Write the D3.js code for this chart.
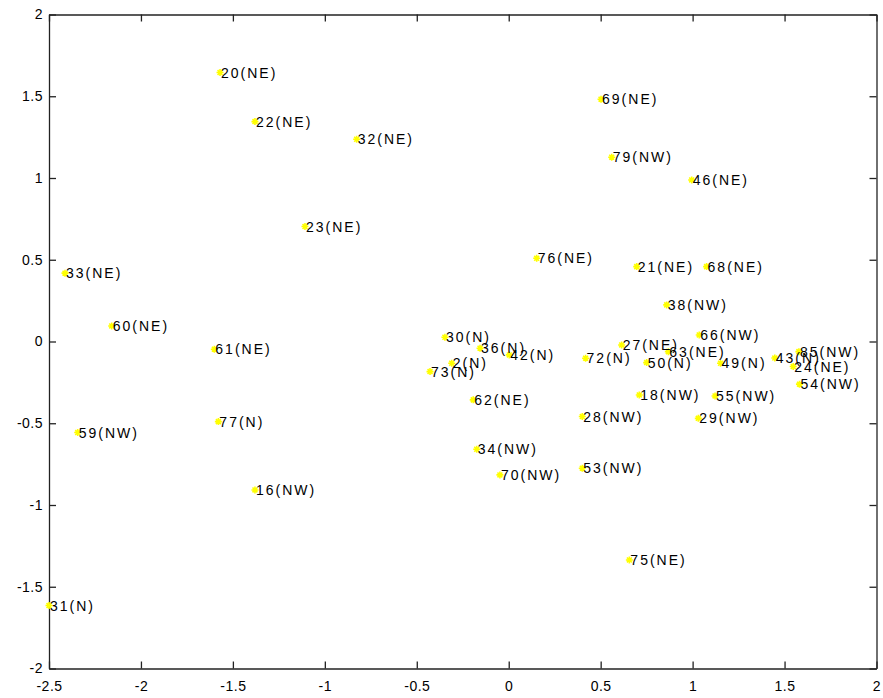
<!DOCTYPE html>
<html>
<head>
<meta charset="utf-8">
<script src="https://cdn.jsdelivr.net/npm/d3@7"></script>
<style>
  html, body { margin: 0; padding: 0; background: #fff; }
  svg { display: block; }
</style>
</head>
<body>
<svg id="chart" width="883" height="698"></svg>
<script>
// ---- data ----
const labels = ["20(NE)","22(NE)","32(NE)","23(NE)","69(NE)","79(NW)","46(NE)","76(NE)","21(NE)","68(NE)",
  "38(NW)","33(NE)","60(NE)","61(NE)","77(N)","59(NW)","16(NW)","31(N)","34(NW)","70(NW)",
  "53(NW)","75(NE)","30(N)","36(N)","42(N)","2(N)","73(N)","62(NE)","72(N)","27(NE)",
  "28(NW)","50(N)","18(NW)","63(NE)","66(NW)","49(N)","55(NW)","29(NW)","43(N)","85(NW)",
  "24(NE)","54(NW)"];
const xValues = [-1.570,-1.380,-0.827,-1.108,0.502,0.560,0.995,0.152,0.696,1.076,
  0.859,-2.413,-2.159,-1.601,-1.579,-2.344,-1.380,-2.500,-0.174,-0.048,
  0.400,0.656,-0.347,-0.156,0.003,-0.310,-0.428,-0.193,0.418,0.614,
  0.400,0.750,0.710,0.868,1.036,1.152,1.122,1.031,1.447,1.578,
  1.547,1.581];
const yValues = [1.645,1.345,1.237,0.703,1.482,1.127,0.988,0.509,0.458,0.458,
  0.224,0.418,0.095,-0.047,-0.490,-0.557,-0.908,-1.615,-0.659,-0.816,
  -0.775,-1.336,0.026,-0.041,-0.082,-0.133,-0.184,-0.357,-0.102,-0.021,
  -0.459,-0.129,-0.327,-0.062,0.040,-0.133,-0.333,-0.470,-0.101,-0.062,
  -0.153,-0.261];
const xTicks = [-2.5,-2,-1.5,-1,-0.5,0,0.5,1,1.5,2];
const yTicks = [-2,-1.5,-1,-0.5,0,0.5,1,1.5,2];
const xDomain = [-2.5, 2];
const yDomain = [-2, 2];

// ---- layout ----
const L = 49, R = 876.5, T = 14.5, B = 668.5;
const svg = d3.select("#chart");
const x = d3.scaleLinear().domain(xDomain).range([L, R]);
const y = d3.scaleLinear().domain(yDomain).range([B, T]);
const fmt = d => String(d);
const FONT = "'Liberation Sans', Arial, sans-serif";
const TICK = 7;

svg.append("rect").attr("width", 883).attr("height", 698).attr("fill", "#fff");

// axes (box with inward ticks)
const axB = svg.append("g").attr("transform", `translate(0,${B})`)
  .call(d3.axisBottom(x).tickValues(xTicks).tickFormat(fmt).tickSizeInner(-TICK).tickSizeOuter(0).tickPadding(TICK + 6));
const axT = svg.append("g").attr("transform", `translate(0,${T})`)
  .call(d3.axisTop(x).tickValues(xTicks).tickFormat("").tickSizeInner(-TICK).tickSizeOuter(0));
const axL = svg.append("g").attr("transform", `translate(${L},0)`)
  .call(d3.axisLeft(y).tickValues(yTicks).tickFormat(fmt).tickSizeInner(-TICK).tickSizeOuter(0).tickPadding(TICK - 1));
const axR = svg.append("g").attr("transform", `translate(${R},0)`)
  .call(d3.axisRight(y).tickValues(yTicks).tickFormat("").tickSizeInner(-TICK).tickSizeOuter(0));

[axB, axT, axL, axR].forEach(g => {
  g.select(".domain").attr("stroke", "#222").attr("stroke-width", 1.3);
  g.selectAll(".tick line").attr("stroke", "#222").attr("stroke-width", 1.3);
  g.selectAll(".tick text").attr("fill", "#000").style("font-family", FONT).style("font-size", "14px")
    .style("letter-spacing", "0.5px");
});

// points
const data = labels.map((t, i) => ({ t, x: xValues[i], y: yValues[i] }));
const s = 3.5;
const g = svg.append("g");
const pts = g.selectAll("g.pt").data(data).join("g").attr("class", "pt")
  .attr("transform", d => `translate(${x(d.x)},${y(d.y)})`);
pts.append("path")
  .attr("d", `M${-s},0H${s}M0,${-s}V${s}M${-s*0.7},${-s*0.7}L${s*0.7},${s*0.7}M${-s*0.7},${s*0.7}L${s*0.7},${-s*0.7}`)
  .attr("stroke", "#ffff00").attr("stroke-width", 1.6).attr("fill", "none");

// labels
g.selectAll("text.lbl").data(data).join("text").attr("class", "lbl")
  .attr("x", d => x(d.x) + 1)
  .attr("y", d => y(d.y))
  .attr("dy", "0.36em")
  .attr("fill", "#000")
  .style("font-family", FONT)
  .style("font-size", "14px")
  .style("letter-spacing", "2px")
  .text(d => d.t);
</script>
</body>
</html>
